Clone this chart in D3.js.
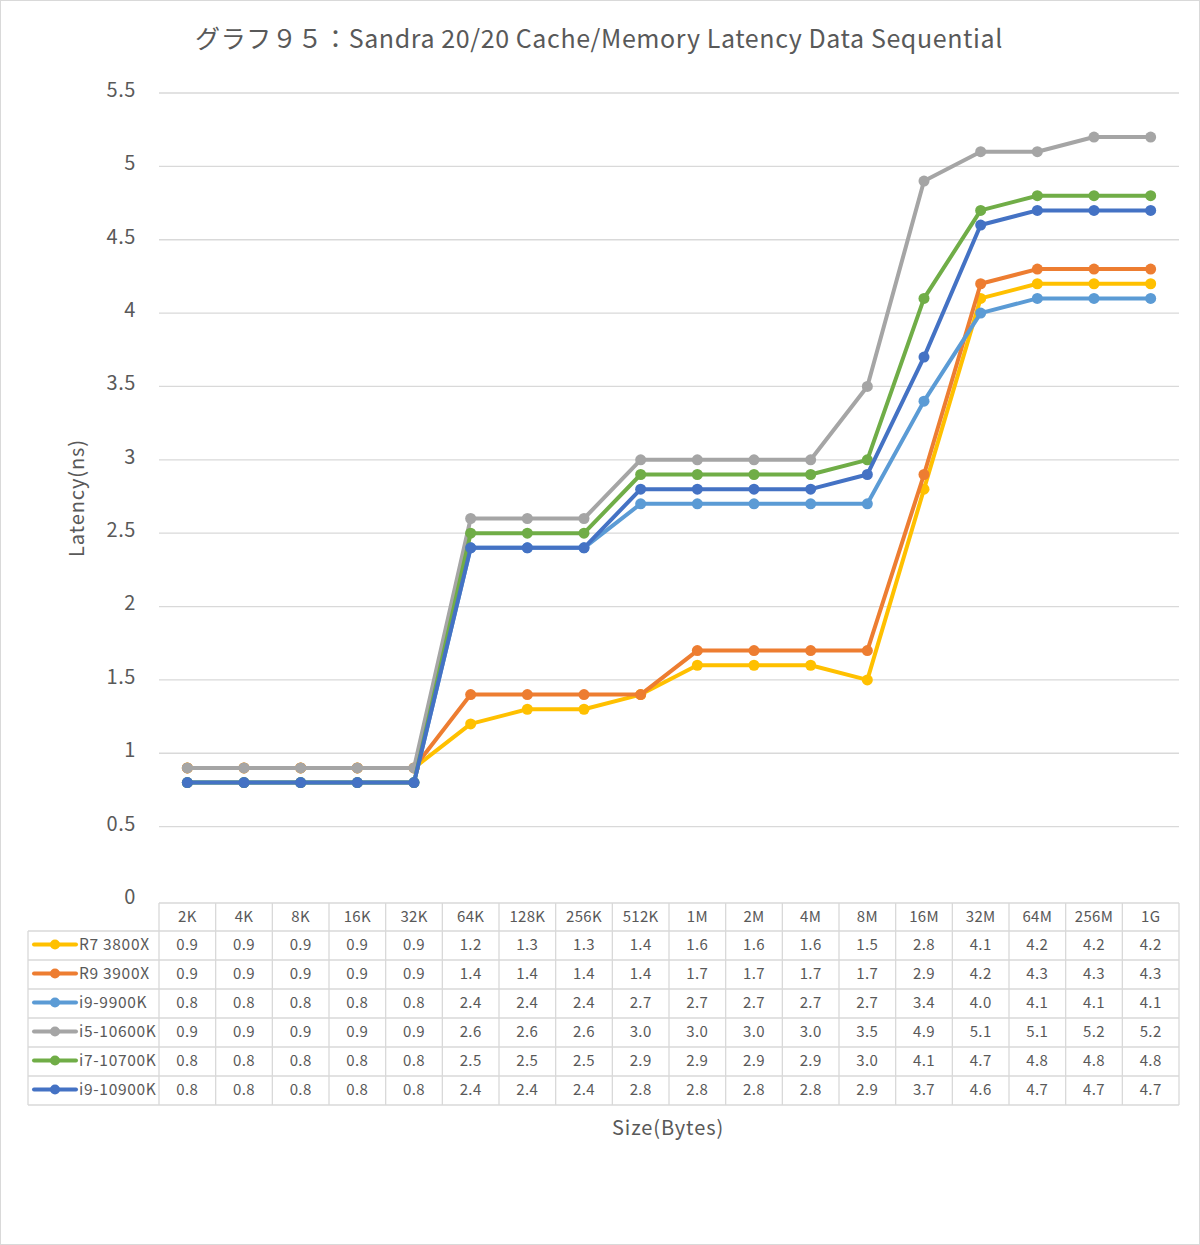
<!DOCTYPE html>
<html><head><meta charset="utf-8">
<script src="https://cdn.jsdelivr.net/npm/d3@7"></script>
<style>body{margin:0;background:#fff}svg{display:block}</style>
</head><body>
<script>
const categories = ["2K","4K","8K","16K","32K","64K","128K","256K","512K","1M","2M","4M","8M","16M","32M","64M","256M","1G"];
const seriesNames = ["R7 3800X","R9 3900X","i9-9900K","i5-10600K","i7-10700K","i9-10900K"];
const seriesColors = ["#FFC000","#ED7D31","#5B9BD5","#A5A5A5","#70AD47","#4472C4"];
const r7_3800x  = [0.9,0.9,0.9,0.9,0.9,1.2,1.3,1.3,1.4,1.6,1.6,1.6,1.5,2.8,4.1,4.2,4.2,4.2];
const r9_3900x  = [0.9,0.9,0.9,0.9,0.9,1.4,1.4,1.4,1.4,1.7,1.7,1.7,1.7,2.9,4.2,4.3,4.3,4.3];
const i9_9900k  = [0.8,0.8,0.8,0.8,0.8,2.4,2.4,2.4,2.7,2.7,2.7,2.7,2.7,3.4,4.0,4.1,4.1,4.1];
const i5_10600k = [0.9,0.9,0.9,0.9,0.9,2.6,2.6,2.6,3.0,3.0,3.0,3.0,3.5,4.9,5.1,5.1,5.2,5.2];
const i7_10700k = [0.8,0.8,0.8,0.8,0.8,2.5,2.5,2.5,2.9,2.9,2.9,2.9,3.0,4.1,4.7,4.8,4.8,4.8];
const i9_10900k = [0.8,0.8,0.8,0.8,0.8,2.4,2.4,2.4,2.8,2.8,2.8,2.8,2.9,3.7,4.6,4.7,4.7,4.7];
const yTicks = [0,0.5,1,1.5,2,2.5,3,3.5,4,4.5,5,5.5];
const titleText = "グラフ９５：Sandra 20/20 Cache/Memory Latency Data Sequential";
const yTitle = "Latency(ns)";
const xTitle = "Size(Bytes)";

const allSeries = [r7_3800x, r9_3900x, i9_9900k, i5_10600k, i7_10700k, i9_10900k];
const W = 1200, H = 1245;
const font = "'Noto Sans CJK JP', 'Noto Sans', sans-serif";
const textColor = "#595959";
const gridColor = "#d9d9d9";

const svg = d3.select("body").append("svg").attr("width", W).attr("height", H);
svg.append("rect").attr("x",0.5).attr("y",0.5).attr("width",W-1).attr("height",H-1)
  .attr("fill","#fff").attr("stroke","#d9d9d9");

const plotL = 159, plotR = 1179, plotT = 93, plotB = 900;
const x = d3.scaleBand().domain(categories).range([plotL, plotR]);
const y = d3.scaleLinear().domain([0, 5.5]).range([plotB, plotT]);

// title
svg.append("text").attr("x", 599).attr("y", 48).attr("text-anchor","middle")
  .attr("font-family", font).attr("font-size", 25).attr("letter-spacing", 0.6)
  .attr("fill", textColor).text(titleText);

// gridlines
svg.append("g").selectAll("line").data(yTicks.filter(d=>d>0)).join("line")
  .attr("x1", plotL).attr("x2", plotR).attr("y1", d=>y(d)).attr("y2", d=>y(d))
  .attr("stroke", gridColor).attr("stroke-width", 1.3);

// y axis labels
const yAxis = d3.axisLeft(y).tickValues(yTicks).tickSize(0).tickPadding(0).tickFormat(d=>String(d));
const yg = svg.append("g").attr("transform", `translate(136,-3)`).call(yAxis);
yg.select(".domain").remove();
yg.selectAll("text").attr("font-family", font).attr("font-size", 20).attr("letter-spacing", 0.6).attr("fill", textColor);

// y title
svg.append("text").attr("transform", `translate(84,498) rotate(-90)`).attr("text-anchor","middle")
  .attr("font-family", font).attr("font-size", 20).attr("letter-spacing", 0.9).attr("fill", textColor).text(yTitle);

// lines
const line = d3.line().x((d,i)=>x(categories[i]) + x.bandwidth()/2).y(d=>y(d));
allSeries.forEach((s, k) => {
  const g = svg.append("g");
  g.append("path").attr("d", line(s)).attr("fill","none").attr("stroke", seriesColors[k])
    .attr("stroke-width", 4).attr("stroke-linejoin","round").attr("stroke-linecap","round");
  g.selectAll("circle").data(s).join("circle")
    .attr("cx", (d,i)=>x(categories[i]) + x.bandwidth()/2).attr("cy", d=>y(d)).attr("r", 5.5)
    .attr("fill", seriesColors[k]);
});

// data table
const tTop = 903, headH = 28, rowH = 29, legL = 28;
const tBot = tTop + headH + rowH * seriesNames.length;
const tg = svg.append("g");
tg.append("line").attr("x1", plotL).attr("x2", plotR).attr("y1", tTop).attr("y2", tTop).attr("stroke", gridColor).attr("stroke-width",1.3);
for (let r = 0; r <= seriesNames.length; r++) {
  const yy = tTop + headH + r*rowH;
  tg.append("line").attr("x1", legL).attr("x2", plotR).attr("y1", yy).attr("y2", yy).attr("stroke", gridColor).attr("stroke-width",1.3);
}
categories.forEach((c,i)=>{
  const xx = x(c);
  tg.append("line").attr("x1", xx).attr("x2", xx).attr("y1", tTop).attr("y2", tBot).attr("stroke", gridColor).attr("stroke-width",1.3);
});
tg.append("line").attr("x1", plotR).attr("x2", plotR).attr("y1", tTop).attr("y2", tBot).attr("stroke", gridColor).attr("stroke-width",1.3);
tg.append("line").attr("x1", legL).attr("x2", legL).attr("y1", tTop+headH).attr("y2", tBot).attr("stroke", gridColor).attr("stroke-width",1.3);

tg.selectAll("text.h").data(categories).join("text").attr("class","h")
  .attr("x", d=>x(d)+x.bandwidth()/2).attr("y", tTop + headH/2 + 5).attr("text-anchor","middle")
  .attr("font-family", font).attr("font-size", 15).attr("letter-spacing", 0.3).attr("fill", textColor).text(d=>d);

seriesNames.forEach((n,k)=>{
  const cy = tTop + headH + k*rowH + rowH/2 - 1;
  tg.append("line").attr("x1", 34).attr("x2", 76).attr("y1", cy).attr("y2", cy)
    .attr("stroke", seriesColors[k]).attr("stroke-width", 4).attr("stroke-linecap","round");
  tg.append("circle").attr("cx", 55).attr("cy", cy).attr("r", 5).attr("fill", seriesColors[k]);
  tg.append("text").attr("x", 79).attr("y", cy+5).attr("font-family", font).attr("font-size", 15.5)
    .attr("letter-spacing", 0.7).attr("fill", textColor).text(n);
  tg.selectAll(null).data(allSeries[k]).join("text")
    .attr("x", (d,i)=>x(categories[i])+x.bandwidth()/2).attr("y", cy+5).attr("text-anchor","middle")
    .attr("font-family", font).attr("font-size", 15).attr("letter-spacing", 0.4).attr("fill", textColor).text(d=>d.toFixed(1));
});

// x title
svg.append("text").attr("x", 668).attr("y", 1135).attr("text-anchor","middle")
  .attr("font-family", font).attr("font-size", 20).attr("letter-spacing", 0.9).attr("fill", textColor).text(xTitle);
</script>
</body></html>
